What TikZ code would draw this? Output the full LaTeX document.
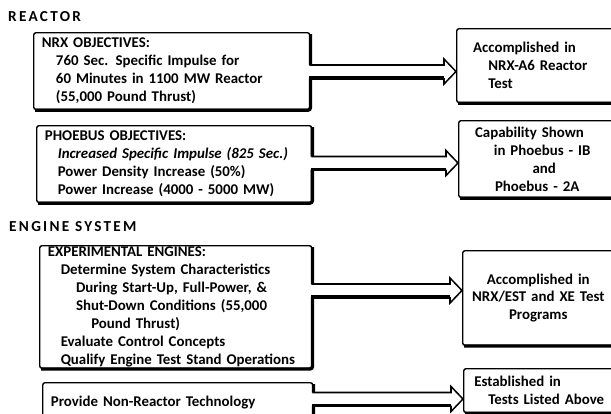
\documentclass[tikz,border=0pt]{standalone}
\usepackage{fontspec}
\setmainfont{Carlito}
\newfontfamily\headfont[LetterSpace=15]{Carlito}
\usetikzlibrary{calc}

\tikzset{
  heading/.style={anchor=west, inner sep=0pt, font=\headfont\bfseries\fontsize{13}{15}\selectfont},
  goalbox/.style={draw, line width=1.2pt, rounded corners=2pt, anchor=north west,
    align=left, inner xsep=7pt, inner ysep=0pt, font=\bfseries\fontsize{12.7}{15.3}\selectfont},
  resultbox/.style={goalbox, inner xsep=14pt, text width=108pt},
  shadowedge/.style={line width=2.8pt, rounded corners=2pt},
  arrowline/.style={line width=1.3pt, line join=miter},
}

% heavy lower and right edge of a box
\newcommand\heavyedge[1]{%
  \draw[shadowedge] ($(#1.south west)+(2,0)$) -- (#1.south east) -- ($(#1.north east)+(0,2)$);
}

% broad hollow arrow from one box to the next, at height #3
\newcommand\hollowarrow[3]{%
  \coordinate (#1-out) at (#1.east |- 0,#3);
  \coordinate (#2-in) at (#2.west |- 0,#3);
  \fill[white] ($(#1-out)+(-3,-6.5)$) -- ($(#2-in)+(-12,-6.5)$) -- ($(#2-in)+(-12,-12.5)$)
    -- (#2-in) -- ($(#2-in)+(-12,12.5)$) -- ($(#2-in)+(-12,6.5)$) -- ($(#1-out)+(-3,6.5)$) -- cycle;
  \draw[arrowline] ($(#1-out)+(-1,-6.5)$) -- ($(#2-in)+(-12,-6.5)$) -- ($(#2-in)+(-12,-12.5)$)
    -- (#2-in) -- ($(#2-in)+(-12,12.5)$) -- ($(#2-in)+(-12,6.5)$);
  \draw[arrowline, line width=2.8pt] ($(#2-in)+(-12,6.5)$) -- ($(#1-out)+(-1,6.5)$);
}

\begin{document}
\begin{tikzpicture}[x=0.03cm, y=-0.03cm]
  \useasboundingbox (0,0) rectangle (611,413);
  \clip (0,0) rectangle (611,413);

  % headings
  \node[heading] (reactor) at (8,17) {REACTOR};
  \node[heading] (engine) at (9,227) {ENGINE SYSTEM};

  % objectives
  \node[goalbox, text width=221.6pt, minimum height=65.5pt] (nrx) at (33,32)
    {NRX OBJECTIVES:\\
     \hspace*{12pt}760 Sec. Specific Impulse for\\
     \hspace*{12pt}60 Minutes in 1100 MW Reactor\\
     \hspace*{12pt}(55,000 Pound Thrust)};
  \node[goalbox, text width=220.7pt, minimum height=65.5pt] (phoebus) at (36,125)
    {PHOEBUS OBJECTIVES:\\
     \hspace*{11pt}\textit{Increased Specific Impulse (825 Sec.)}\\
     \hspace*{11pt}Power Density Increase (50\%)\\
     \hspace*{11pt}Power Increase (4000 - 5000 MW)};
  \node[goalbox, text width=218.2pt, minimum height=104.6pt] (exper) at (39,245)
    {EXPERIMENTAL ENGINES:\\
     \hspace*{11pt}Determine System Characteristics\\
     \hspace*{24pt}During Start-Up, Full-Power, \&\\
     \hspace*{24pt}Shut-Down Conditions (55,000\\
     \hspace*{37pt}Pound Thrust)\\
     \hspace*{11pt}Evaluate Control Concepts\\
     \hspace*{11pt}Qualify Engine Test Stand Operations};
  \node[goalbox, text width=216.5pt, minimum height=34pt] (provide) at (42,382)
    {Provide Non-Reactor Technology};

  % results
  \node[resultbox, minimum height=63pt] (acc1) at (456,28)
    {Accomplished in\\
     \hspace*{13pt}NRX-A6 Reactor\\
     \hspace*{13pt}Test};
  \node[resultbox, minimum height=65.5pt] (cap2) at (458,120)
    {Capability Shown\\
     \hspace*{16pt}in Phoebus - IB\\
     \hspace*{49pt}and\\
     \hspace*{17pt}Phoebus - 2A};
  \node[resultbox, align=center, inner xsep=4pt, text width=121pt, minimum height=80.8pt] (acc3) at (462,250)
    {Accomplished in\\
     NRX/EST and XE Test\\
     Programs};
  \node[resultbox, inner xsep=9pt, text width=118pt, minimum height=37.4pt] (est4) at (463,368)
    {Established in\\
     \hspace*{12pt}Tests Listed Above};

  \heavyedge{nrx}
  \heavyedge{phoebus}
  \heavyedge{exper}
  \heavyedge{provide}
  \heavyedge{acc1}
  \heavyedge{cap2}
  \heavyedge{acc3}
  \heavyedge{est4}

  \hollowarrow{nrx}{acc1}{71.5}
  \hollowarrow{phoebus}{cap2}{163}
  \hollowarrow{exper}{acc3}{290.5}
  \hollowarrow{provide}{est4}{399}
\end{tikzpicture}
\end{document}
